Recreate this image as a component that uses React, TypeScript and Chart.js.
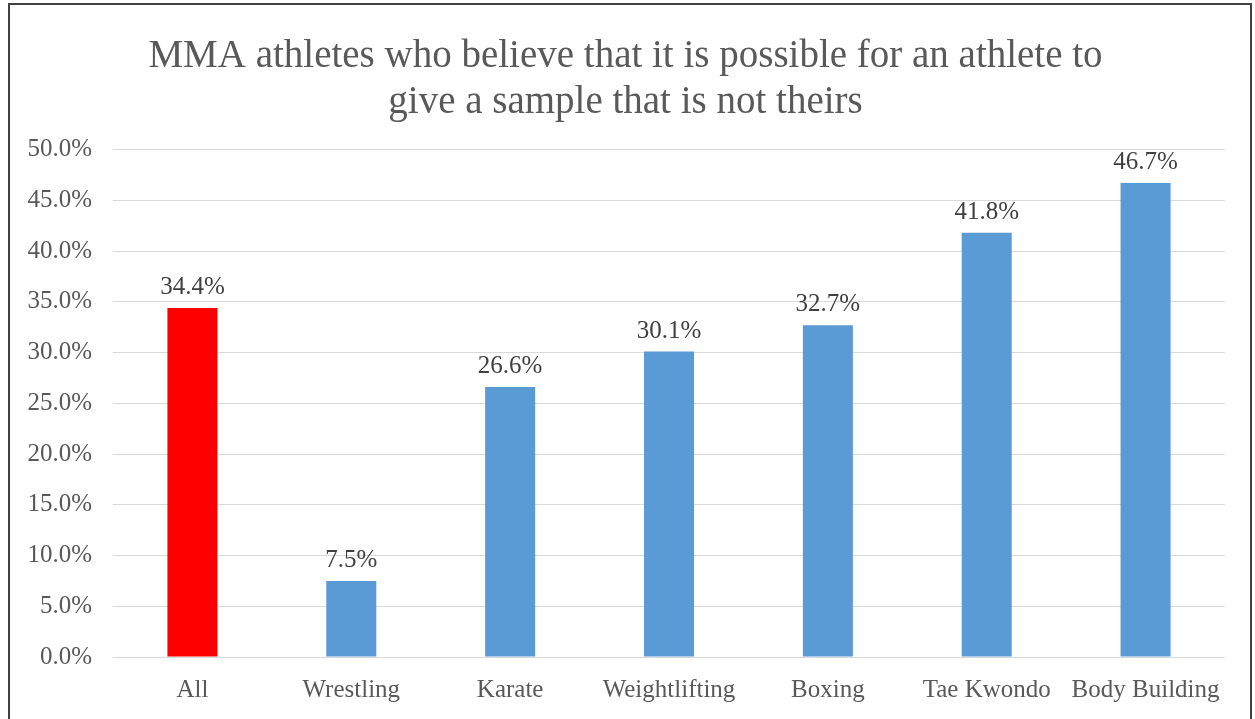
import React, { useEffect, useRef } from "react";
import { Chart, registerables } from "chart.js";

Chart.register(...registerables);

const categories = ["All", "Wrestling", "Karate", "Weightlifting", "Boxing", "Tae Kwondo", "Body Building"];
const values = [34.4, 7.5, 26.6, 30.1, 32.7, 41.8, 46.7];
const barColors = ["#FF0000", "#5B9BD5", "#5B9BD5", "#5B9BD5", "#5B9BD5", "#5B9BD5", "#5B9BD5"];
const titleLines = [
  "MMA athletes who believe that it is possible for an athlete to",
  "give a sample that is not theirs",
];

const FONT = "'Liberation Serif', 'Times New Roman', serif";
const TEXT = "#595959";

const dataLabels = {
  id: "dataLabels",
  afterDatasetsDraw(chart: any) {
    const ctx = chart.ctx;
    const meta = chart.getDatasetMeta(0);
    ctx.save();
    ctx.font = `25px ${FONT}`;
    ctx.fillStyle = "#404040";
    ctx.textAlign = "center";
    ctx.textBaseline = "bottom";
    meta.data.forEach((bar: any, i: number) => {
      ctx.fillText(values[i].toFixed(1) + "%", bar.x, bar.y - 8);
    });
    ctx.restore();
  },
};

export default function App() {
  const ref = useRef<HTMLCanvasElement | null>(null);
  useEffect(() => {
    if (!ref.current) return;
    const chart = new Chart(ref.current, {
      type: "bar",
      data: {
        labels: categories,
        datasets: [
          {
            data: values,
            backgroundColor: barColors,
            borderWidth: 0,
            barPercentage: 0.315,
            categoryPercentage: 1,
          },
        ],
      },
      options: {
        animation: false,
        responsive: false,
        maintainAspectRatio: false,
        layout: { padding: { left: 16, right: 25, top: 28, bottom: 0 } },
        plugins: {
          legend: { display: false },
          tooltip: { enabled: false },
          title: {
            display: true,
            text: titleLines,
            color: TEXT,
            font: { family: FONT, size: 39, weight: "normal", lineHeight: 1.2 },
            padding: { top: 0, bottom: 23 },
          },
        },
        scales: {
          x: {
            grid: { display: false, drawTicks: false },
            border: { display: false },
            afterFit(scale: any) {
              scale.height = 62;
            },
            ticks: {
              color: TEXT,
              font: { family: FONT, size: 25 },
              padding: 18,
              maxRotation: 0,
              autoSkip: false,
            },
          },
          y: {
            min: 0,
            max: 50,
            grid: { color: "#D9D9D9", lineWidth: 1, drawTicks: false },
            border: { display: false },
            afterFit(scale: any) {
              scale.width = 87;
            },
            ticks: {
              stepSize: 5,
              color: TEXT,
              font: { family: FONT, size: 25 },
              padding: 21,
              callback: (v: any) => Number(v).toFixed(1) + "%",
            },
          },
        },
      },
      plugins: [dataLabels],
    });
    return () => chart.destroy();
  }, []);
  return (
    <div
      style={{
        position: "absolute",
        left: 8,
        top: 3,
        width: 1240,
        height: 720,
        border: "2px solid #404040",
        background: "#fff",
      }}
    >
      <canvas ref={ref} width={1240} height={714} style={{ display: "block" }} />
    </div>
  );
}
